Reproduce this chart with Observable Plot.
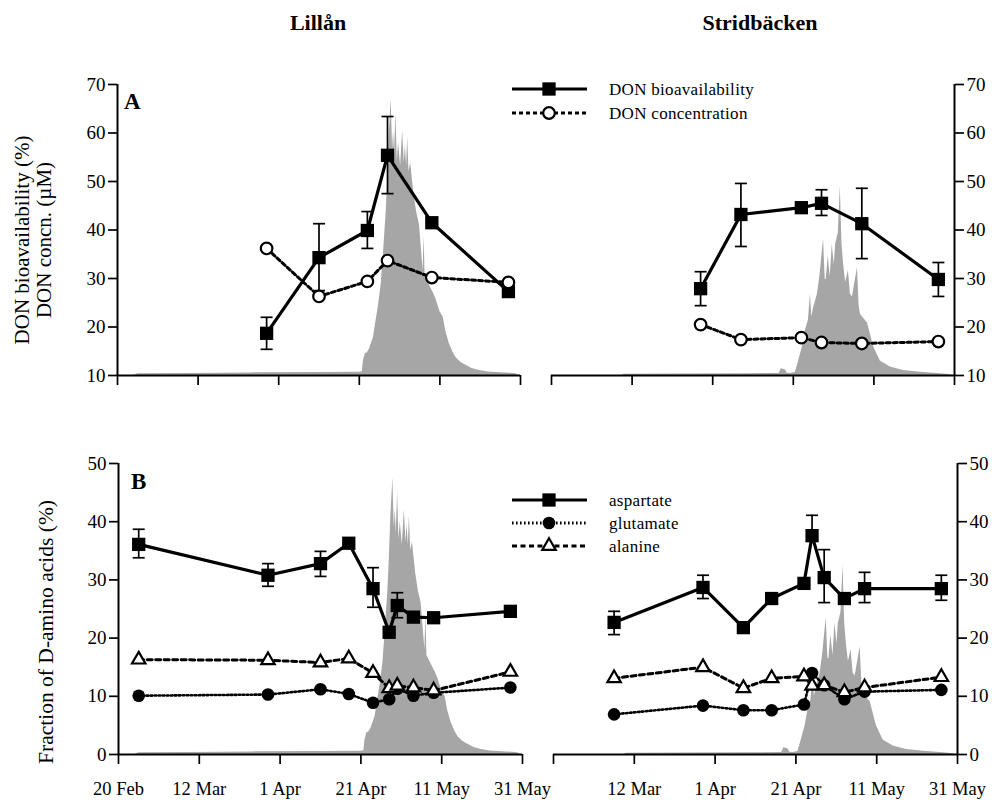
<!DOCTYPE html>
<html>
<head>
<meta charset="utf-8">
<script src="https://cdn.jsdelivr.net/npm/d3@7"></script>
<script src="https://cdn.jsdelivr.net/npm/@observablehq/plot@0.6"></script>
<style>
  html, body { margin: 0; padding: 0; background: #fff; }
  #fig { position: relative; width: 993px; height: 801px; overflow: hidden; background: #fff;
         font-family: "Liberation Serif", "Times New Roman", serif; }
  #fig > svg, #fig > div { position: absolute; }
</style>
</head>
<body>
<div id="fig"></div>
<script>
// ---------------- DATA ----------------
const tickDates  = ["1999-02-20", "1999-03-12", "1999-04-01", "1999-04-21", "1999-05-11", "1999-05-31"];
const tickLabels = ["20 Feb", "12 Mar", "1 Apr", "21 Apr", "11 May", "31 May"];
const yTicksA = [10, 20, 30, 40, 50, 60, 70];
const yTicksB = [0, 10, 20, 30, 40, 50];

// Panel A – Lillån
const lilA_dates  = ["1999-03-29", "1999-04-11", "1999-04-23", "1999-04-28", "1999-05-09", "1999-05-28"];
const lilA_bio    = [18.7, 34.3, 39.9, 55.4, 41.5, 27.3];
const lilA_bioLo  = [15.4, 27.5, 36.2, 47.5, null, null];
const lilA_bioHi  = [22.0, 41.3, 43.8, 63.4, null, null];
const lilA_conc   = [36.2, 26.3, 29.4, 33.7, 30.2, 29.2];

// Panel A – Stridbäcken
const strA_dates  = ["1999-03-29", "1999-04-08", "1999-04-23", "1999-04-28", "1999-05-08", "1999-05-27"];
const strA_bio    = [27.9, 43.2, 44.6, 45.5, 41.3, 29.8];
const strA_bioLo  = [24.4, 36.6, null, 43.0, 34.1, 26.3];
const strA_bioHi  = [31.4, 49.6, null, 48.3, 48.6, 33.3];
const strA_conc   = [20.5, 17.4, 17.8, 16.8, 16.6, 17.0];

// Panel B – Lillån
const lilB_dates  = ["1999-02-25", "1999-03-29", "1999-04-11", "1999-04-18", "1999-04-24", "1999-04-28", "1999-04-30", "1999-05-04", "1999-05-09", "1999-05-28"];
const lilB_asp    = [36.1, 30.8, 32.8, 36.3, 28.5, 21.0, 25.6, 23.6, 23.5, 24.6];
const lilB_aspLo  = [33.8, 28.9, 30.6, null, 25.3, null, 23.5, null, null, null];
const lilB_aspHi  = [38.7, 32.8, 34.9, null, 32.1, null, 27.8, null, null, null];
const lilB_glu    = [10.1, 10.3, 11.2, 10.4, 8.9, 9.5, 11.3, 10.1, 10.6, 11.5];
const lilB_ala    = [16.3, 16.2, 15.8, 16.5, 14.0, 11.4, 11.8, 11.5, 11.0, 14.2];

// Panel B – Stridbäcken
const strB_dates  = ["1999-03-07", "1999-03-29", "1999-04-08", "1999-04-15", "1999-04-23", "1999-04-25", "1999-04-28", "1999-05-03", "1999-05-08", "1999-05-27"];
const strB_asp    = [22.7, 28.7, 21.8, 26.8, 29.4, 37.6, 30.4, 26.8, 28.5, 28.5];
const strB_aspLo  = [20.6, 26.8, null, null, null, null, 26.1, null, 26.1, 26.5];
const strB_aspHi  = [24.6, 30.8, null, null, null, 41.1, 35.2, null, 31.3, 30.8];
const strB_glu    = [6.9, 8.4, 7.6, 7.6, 8.6, 14.0, 11.9, 9.5, 10.8, 11.1];
const strB_ala    = [13.1, 15.0, 11.4, 13.1, 13.4, 11.8, 11.9, 10.7, 11.5, 13.3];

// Discharge (relative units, % of panel height) – grey hydrographs
const lillanDischarge = [
  ["02-24 00", 0], ["02-25 00", 0.6], ["03-10 00", 0.7], ["03-25 00", 0.9], ["04-10 00", 1.0],
  ["04-21 00", 1.1], ["04-21 18", 1.3], ["04-22 00", 5], ["04-22 12", 7.5], ["04-23 00", 7.8],
  ["04-23 12", 9], ["04-24 00", 11], ["04-24 12", 13], ["04-25 06", 19.6], ["04-25 18", 24],
  ["04-26 10", 31], ["04-27 00", 42], ["04-27 16", 56], ["04-28 00", 66], ["04-28 10", 82],
  ["04-28 22", 95], ["04-29 06", 78], ["04-29 12", 84], ["04-29 18", 76], ["04-30 02", 90],
  ["04-30 10", 74], ["04-30 18", 80], ["05-01 06", 72], ["05-01 18", 84], ["05-02 04", 73],
  ["05-02 10", 79], ["05-02 18", 72], ["05-03 00", 82], ["05-03 08", 70], ["05-03 18", 73],
  ["05-04 14", 62], ["05-05 06", 56], ["05-05 22", 52], ["05-06 12", 42], ["05-06 20", 36],
  ["05-07 02", 48], ["05-07 08", 34], ["05-08 10", 31], ["05-09 12", 28], ["05-10 02", 26],
  ["05-11 00", 22], ["05-11 20", 20], ["05-12 12", 15], ["05-13 08", 11], ["05-14 06", 8],
  ["05-15 02", 6], ["05-16 06", 4.5], ["05-17 14", 3.4], ["05-19 00", 2.4], ["05-20 20", 1.7],
  ["05-23 00", 1.2], ["05-25 00", 1.0], ["05-29 06", 0.7], ["05-30 00", 0.5], ["05-30 12", 0]
];
const stridDischarge = [
  ["03-09 12", 0], ["03-10 00", 0.4], ["03-25 00", 0.5], ["04-10 00", 0.6], ["04-17 12", 0.7],
  ["04-18 00", 2.3], ["04-19 00", 2.0], ["04-19 12", 0.8], ["04-20 06", 0.7], ["04-21 12", 1.0],
  ["04-22 06", 4.6], ["04-23 06", 9.7], ["04-24 00", 15.5], ["04-24 18", 19], ["04-25 06", 28],
  ["04-25 14", 20], ["04-26 00", 23], ["04-27 00", 28], ["04-27 16", 35], ["04-28 12", 47],
  ["04-28 22", 33], ["04-29 04", 33], ["04-29 16", 41], ["04-30 04", 34], ["04-30 16", 45],
  ["05-01 04", 38], ["05-01 12", 45], ["05-02 04", 49], ["05-02 16", 65], ["05-03 02", 45],
  ["05-03 12", 38], ["05-04 00", 32], ["05-04 16", 36], ["05-05 04", 28], ["05-05 16", 27],
  ["05-06 22", 37], ["05-07 08", 24], ["05-07 16", 21], ["05-09 10", 18], ["05-10 22", 10],
  ["05-12 14", 5], ["05-15 02", 2.9], ["05-18 08", 1.7], ["05-22 14", 1.1], ["05-27 12", 0.6],
  ["05-30 00", 0.3], ["05-30 12", 0]
];

// ---------------- HELPERS ----------------
const FONT = '"Liberation Serif", "Times New Roman", serif';
const parseDay = d3.utcParse("%Y-%m-%d");
const parseHour = d3.utcParse("%Y-%m-%d %H");
const X0 = parseDay(tickDates[0]);
const X1 = parseDay(tickDates[tickDates.length - 1]);
const tickDateObjs = tickDates.map(parseDay);

const DASH_CONC = "4,3";
const DASH_GLU = "1.6,2.4";
const DASH_ALA = "5,3.5";

const capSymbol = {
  draw(ctx, size) { const r = Math.sqrt(size / Math.PI); ctx.moveTo(-r, 0); ctx.lineTo(r, 0); }
};

function rowsOf(dates, cols) {
  return dates.map((d, i) => {
    const o = { date: parseDay(d) };
    for (const k in cols) o[k] = cols[k][i];
    return o;
  });
}

function errorMarks(rows, key, loKey, hiKey) {
  const e = rows.filter(r => r[loKey] != null || r[hiKey] != null).map(r => ({
    date: r.date,
    lo: r[loKey] != null ? r[loKey] : r[key],
    hi: r[hiKey] != null ? r[hiKey] : r[key],
    hasLo: r[loKey] != null, hasHi: r[hiKey] != null
  }));
  return [
    Plot.ruleX(e, { x: "date", y1: "lo", y2: "hi", stroke: "black", strokeWidth: 1.7 }),
    Plot.dot(e.filter(d => d.hasHi), { x: "date", y: "hi", symbol: capSymbol, r: 6, fill: "none", stroke: "black", strokeWidth: 1.7 }),
    Plot.dot(e.filter(d => d.hasLo), { x: "date", y: "lo", symbol: capSymbol, r: 6, fill: "none", stroke: "black", strokeWidth: 1.7 })
  ];
}

function dischargeMark(pairs, yDomain) {
  const [y0, y1] = yDomain;
  const rows = pairs.map(([t, q]) => ({ date: parseHour("1999-" + t), q }));
  return Plot.areaY(rows, {
    x: "date", y1: () => y0, y2: d => y0 + d.q / 100 * (y1 - y0),
    fill: "#a6a6a6", curve: "linear"
  });
}

function labelFor(d, showLabels, firstLabel) {
  if (!showLabels) return "";
  const i = tickDateObjs.findIndex(t => +t === +d);
  if (i === 0 && !firstLabel) return "";
  return i >= 0 ? tickLabels[i] : "";
}

function panel(o) {
  return Plot.plot({
    width: o.w, height: o.h,
    marginLeft: o.ml, marginRight: o.mr, marginTop: o.mt, marginBottom: o.mb,
    style: { fontFamily: FONT, fontSize: "19px", color: "black", background: "transparent", overflow: "visible" },
    x: { type: "utc", domain: [X0, X1], label: null },
    y: { domain: o.yDomain, label: null },
    marks: [
      dischargeMark(o.discharge, o.yDomain),
      Plot.ruleY([o.yDomain[0]], { stroke: "black", strokeWidth: 2 }),
      Plot.ruleX([o.side === "left" ? X0 : X1], { stroke: "black", strokeWidth: 2 }),
      Plot.axisY(o.yTicks, { anchor: o.side, tickSize: 9, tickPadding: 3, strokeWidth: 1.7, fontSize: 19, label: null }),
      Plot.axisX(tickDateObjs, {
        anchor: "bottom", tickSize: 10, tickPadding: 17, strokeWidth: 1.7, fontSize: 18.5, label: null,
        tickFormat: d => labelFor(d, o.showLabels, o.firstLabel)
      }),
      ...o.marks
    ]
  });
}

function marksA(rows) {
  return [
    Plot.line(rows, { x: "date", y: "conc", stroke: "black", strokeWidth: 3, strokeDasharray: DASH_CONC }),
    Plot.line(rows, { x: "date", y: "bio", stroke: "black", strokeWidth: 3.2 }),
    ...errorMarks(rows, "bio", "bioLo", "bioHi"),
    Plot.dot(rows, { x: "date", y: "bio", symbol: "square", r: 7.5, fill: "black", stroke: "none" }),
    Plot.dot(rows, { x: "date", y: "conc", r: 5.8, fill: "white", stroke: "black", strokeWidth: 2.2 })
  ];
}

function marksB(rows) {
  return [
    Plot.line(rows, { x: "date", y: "glu", stroke: "black", strokeWidth: 2.6, strokeDasharray: DASH_GLU }),
    Plot.line(rows, { x: "date", y: "ala", stroke: "black", strokeWidth: 3, strokeDasharray: DASH_ALA }),
    Plot.line(rows, { x: "date", y: "asp", stroke: "black", strokeWidth: 3.2 }),
    ...errorMarks(rows, "asp", "aspLo", "aspHi"),
    Plot.dot(rows, { x: "date", y: "glu", r: 6.3, fill: "black", stroke: "none" }),
    Plot.dot(rows, { x: "date", y: "ala", symbol: "triangle", r: 5, fill: "white", stroke: "black", strokeWidth: 2.2 }),
    Plot.dot(rows, { x: "date", y: "asp", symbol: "square", r: 7.5, fill: "black", stroke: "none" })
  ];
}

// ---------------- BUILD ----------------
const fig = document.getElementById("fig");
function place(el, left, top) { el.style.left = left + "px"; el.style.top = top + "px"; fig.appendChild(el); }

const lilA = rowsOf(lilA_dates, { bio: lilA_bio, bioLo: lilA_bioLo, bioHi: lilA_bioHi, conc: lilA_conc });
const strA = rowsOf(strA_dates, { bio: strA_bio, bioLo: strA_bioLo, bioHi: strA_bioHi, conc: strA_conc });
const lilB = rowsOf(lilB_dates, { asp: lilB_asp, aspLo: lilB_aspLo, aspHi: lilB_aspHi, glu: lilB_glu, ala: lilB_ala });
const strB = rowsOf(strB_dates, { asp: strB_asp, aspLo: strB_aspLo, aspHi: strB_aspHi, glu: strB_glu, ala: strB_ala });

place(panel({ w: 540, h: 345, ml: 117, mr: 20, mt: 24, mb: 30, yDomain: [10, 70], yTicks: yTicksA, side: "left",
  showLabels: false, discharge: lillanDischarge, marks: marksA(lilA) }), 0, 60);
place(panel({ w: 463, h: 345, ml: 21, mr: 39, mt: 24, mb: 30, yDomain: [10, 70], yTicks: yTicksA, side: "right",
  showLabels: false, discharge: stridDischarge, marks: marksA(strA) }), 530, 60);
place(panel({ w: 545, h: 361, ml: 118, mr: 23, mt: 23, mb: 47, yDomain: [0, 50], yTicks: yTicksB, side: "left",
  showLabels: true, firstLabel: true, discharge: lillanDischarge, marks: marksB(lilB) }), 0, 440);
place(panel({ w: 463, h: 361, ml: 23, mr: 36, mt: 23, mb: 47, yDomain: [0, 50], yTicks: yTicksB, side: "right",
  showLabels: true, firstLabel: false, discharge: stridDischarge, marks: marksB(strB) }), 530, 440);

// ---------------- OVERLAY TEXT & LEGENDS ----------------
const ov = d3.select(fig).append("svg")
  .attr("width", 993).attr("height", 801)
  .style("left", "0px").style("top", "0px")
  .style("font-family", FONT);

ov.append("text").attr("x", 318).attr("y", 22).attr("text-anchor", "middle").attr("dominant-baseline", "central")
  .attr("font-size", 22).attr("font-weight", "bold").text("Lillån");
ov.append("text").attr("x", 760).attr("y", 22).attr("text-anchor", "middle").attr("dominant-baseline", "central")
  .attr("font-size", 22).attr("font-weight", "bold").text("Stridbäcken");

ov.append("text").attr("x", 124).attr("y", 109).attr("font-size", 23).attr("font-weight", "bold").text("A");
ov.append("text").attr("x", 131).attr("y", 489).attr("font-size", 23).attr("font-weight", "bold").text("B");

function vtext(x, y, s, size) {
  ov.append("text").attr("transform", `translate(${x},${y}) rotate(-90)`)
    .attr("text-anchor", "middle").attr("dominant-baseline", "central")
    .attr("font-size", size).text(s);
}
vtext(22, 240, "DON bioavailability (%)", 21);
vtext(44, 240, "DON concn. (µM)", 21);
vtext(46, 632, "Fraction of D-amino acids (%)", 21.5);

const legendTop = [
  { label: "DON bioavailability", dash: null, sym: d3.symbolSquare, r: 7.5, fill: "black", y: 89 },
  { label: "DON concentration", dash: DASH_CONC, sym: d3.symbolCircle, r: 5.8, fill: "white", y: 113 }
];
const legendBottom = [
  { label: "aspartate", dash: null, sym: d3.symbolSquare, r: 7.5, fill: "black", y: 500 },
  { label: "glutamate", dash: DASH_GLU, sym: d3.symbolCircle, r: 6.3, fill: "black", y: 523 },
  { label: "alanine", dash: DASH_ALA, sym: d3.symbolTriangle, r: 5, fill: "white", y: 546 }
];
for (const it of [...legendTop, ...legendBottom]) {
  ov.append("line").attr("x1", 512).attr("x2", 587).attr("y1", it.y).attr("y2", it.y)
    .attr("stroke", "black").attr("stroke-width", it.dash ? 2.8 : 3.2)
    .attr("stroke-dasharray", it.dash || null);
  ov.append("path").attr("transform", `translate(549,${it.y})`)
    .attr("d", d3.symbol(it.sym, it.r * it.r * Math.PI)())
    .attr("fill", it.fill).attr("stroke", it.fill === "white" ? "black" : "none").attr("stroke-width", 2.2);
  ov.append("text").attr("x", 609).attr("y", it.y).attr("dominant-baseline", "central")
    .attr("font-size", 17).attr("letter-spacing", "0.3px").text(it.label);
}
</script>
</body>
</html>
